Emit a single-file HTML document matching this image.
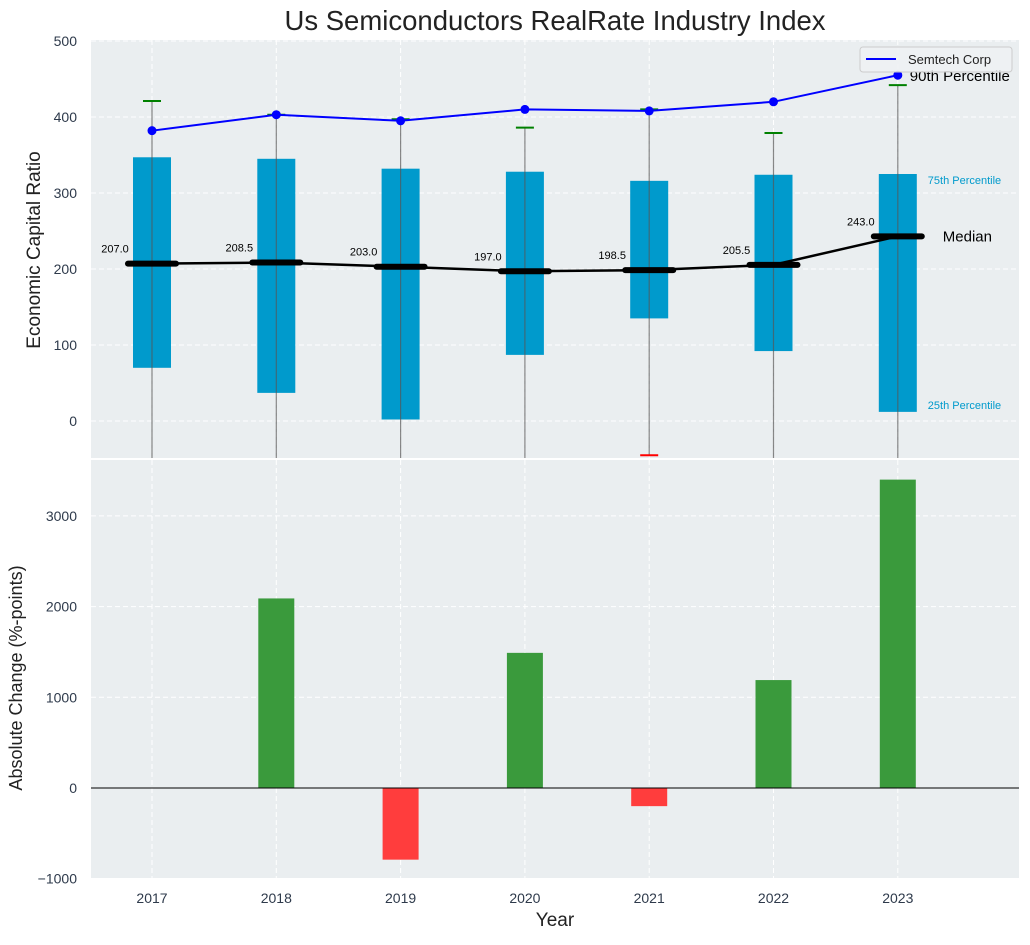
<!DOCTYPE html>
<html><head><meta charset="utf-8"><style>
body{margin:0;background:#fff;font-family:"Liberation Sans",sans-serif}
svg text{font-family:"Liberation Sans",sans-serif}
</style></head><body>
<svg id="c" width="1030" height="940" xmlns="http://www.w3.org/2000/svg"></svg>
<script>
const years=[2017,2018,2019,2020,2021,2022,2023];
const q1=[70,37,2,87,135,92,12];
const q3=[347,345,332,328,316,324,325];
const medians=[207,208.5,203,197,198.5,205.5,243];
const upperWhisker=[421,403,397,386,410,379,442];
const lowerWhisker=[-80,-80,-80,-80,-45,-80,-80];
const semtech=[382,403,395,410,408,420,455];
const changes=[0,2090,-790,1490,-200,1190,3400];
const topTicks=[0,100,200,300,400,500];
const botTicks=[-1000,0,1000,2000,3000];

const svg=document.getElementById('c');
const NS='http://www.w3.org/2000/svg';
function el(tag,attrs,parent,name,inter){const e=document.createElementNS(NS,tag);for(const k in attrs)e.setAttribute(k,attrs[k]);


(parent||svg).appendChild(e);return e;}
function txt(s,attrs,name){const t=el('text',attrs,svg,name,false);t.textContent=s;return t;}

const X=i=>152+i*124.3;
const L=91,R=1019;
const yT=v=>421-v*0.76;
const yB=v=>788-v*0.0907;
const T0=40,T1=458,B0=460,B1=878;

el('rect',{x:L,y:T0,width:R-L,height:T1-T0,fill:'#eaeef0'},svg,'top-plot-area');
el('rect',{x:L,y:B0,width:R-L,height:B1-B0,fill:'#eaeef0'},svg,'bottom-plot-area');

topTicks.forEach(v=>{el('line',{x1:L,x2:R,y1:yT(v),y2:yT(v),stroke:'#fff','stroke-dasharray':'5,3','stroke-width':1},svg,'top-grid-line');
txt(String(v),{x:77,y:yT(v)+5,'text-anchor':'end','font-size':14,fill:'#2e3a4b'},'top-y-tick');});
botTicks.forEach(v=>{el('line',{x1:L,x2:R,y1:yB(v),y2:yB(v),stroke:'#fff','stroke-dasharray':'5,3','stroke-width':1},svg,'bottom-grid-line');
txt(v<0?'\u2212'+Math.abs(v):String(v),{x:77,y:yB(v)+5,'text-anchor':'end','font-size':14,fill:'#2e3a4b'},'bottom-y-tick');});
years.forEach((y,i)=>{
el('line',{x1:X(i),x2:X(i),y1:T0,y2:T1,stroke:'#fff','stroke-dasharray':'5,3'},svg,'top-grid-vline');
el('line',{x1:X(i),x2:X(i),y1:B0,y2:B1,stroke:'#fff','stroke-dasharray':'5,3'},svg,'bottom-grid-vline');
txt(String(y),{x:X(i),y:903,'text-anchor':'middle','font-size':14,fill:'#2e3a4b'},'x-tick-label');});

const defs=el('defs',{},svg,'defs');
const cp=el('clipPath',{id:'ct'},defs,'clip');el('rect',{x:L,y:T0,width:R-L,height:T1-T0},cp,'clip-rect');
const g=el('g',{'clip-path':'url(#ct)'},svg,'top-series');

years.forEach((y,i)=>{
el('rect',{x:X(i)-19,y:yT(q3[i]),width:38,height:yT(q1[i])-yT(q3[i]),fill:'#009acc'},g,'iqr-box-'+y);
el('line',{x1:X(i),x2:X(i),y1:yT(upperWhisker[i]),y2:yT(lowerWhisker[i]),stroke:'#555','stroke-opacity':0.7,'stroke-width':1.2},g,'whisker-'+y);
el('line',{x1:X(i)-9,x2:X(i)+9,y1:yT(upperWhisker[i]),y2:yT(upperWhisker[i]),stroke:'green','stroke-width':2},g,'upper-cap-'+y);
if(lowerWhisker[i]>-49)el('line',{x1:X(i)-9,x2:X(i)+9,y1:yT(lowerWhisker[i]),y2:yT(lowerWhisker[i]),stroke:'red','stroke-width':2},g,'lower-cap-'+y);
});
el('polyline',{points:medians.map((v,i)=>X(i)+','+yT(v)).join(' '),fill:'none',stroke:'#000','stroke-width':2.5},g,'median-line');
years.forEach((y,i)=>{
el('line',{x1:X(i)-24,x2:X(i)+24,y1:yT(medians[i]),y2:yT(medians[i]),stroke:'#000','stroke-width':6,'stroke-linecap':'round'},g,'median-bar-'+y);
txt(medians[i].toFixed(1),{x:X(i)-37,y:yT(medians[i])-11,'text-anchor':'middle','font-size':11,fill:'#000'},'median-label-'+y);
});
el('polyline',{points:semtech.map((v,i)=>X(i)+','+yT(v)).join(' '),fill:'none',stroke:'#0000ff','stroke-width':2},g,'semtech-line');
semtech.forEach((v,i)=>el('circle',{cx:X(i),cy:yT(v),r:4.5,fill:'#0000ff'},g,'semtech-point-'+years[i]));

const li=6;
txt('90th Percentile',{x:X(li)+12,y:yT(semtech[li])+6,'font-size':15,fill:'#000'},'label-90th');
txt('75th Percentile',{x:X(li)+30,y:yT(q3[li])+10,'font-size':11,fill:'#009acc'},'label-75th');
txt('Median',{x:X(li)+45,y:yT(medians[li])+5,'font-size':15,fill:'#000'},'label-median');
txt('25th Percentile',{x:X(li)+30,y:yT(q1[li])-3,'font-size':11,fill:'#009acc'},'label-25th');

el('rect',{x:860,y:47,width:152,height:25,rx:3,fill:'#eef1f3','fill-opacity':0.85,stroke:'#ccc'},svg,'legend');
el('line',{x1:866,x2:896,y1:59,y2:59,stroke:'#0000ff','stroke-width':2},svg,'legend-swatch');
txt('Semtech Corp',{x:908,y:64,'font-size':13,fill:'#222'},'legend-entry');

changes.forEach((v,i)=>{const y0=yB(Math.max(v,0)),h=Math.abs(yB(v)-yB(0));
el('rect',{x:X(i)-18,y:y0,width:36,height:h,fill:v>=0?'#3a9a3c':'#ff3d3d'},svg,'change-bar-'+years[i]);});
el('line',{x1:L,x2:R,y1:yB(0),y2:yB(0),stroke:'#000','stroke-width':1},svg,'zero-line');

txt('Us Semiconductors RealRate Industry Index',{x:555,y:30,'text-anchor':'middle','font-size':27.5,fill:'#222'},'chart-title');
txt('Economic Capital Ratio',{x:40,y:250,'text-anchor':'middle','font-size':19,fill:'#222',transform:'rotate(-90 40 250)'},'top-y-axis-title');
txt('Absolute Change (%-points)',{x:22,y:678,'text-anchor':'middle','font-size':18,fill:'#222',transform:'rotate(-90 22 678)'},'bottom-y-axis-title');
txt('Year',{x:555,y:926,'text-anchor':'middle','font-size':19,fill:'#222'},'x-axis-title');
</script>
</body></html>
